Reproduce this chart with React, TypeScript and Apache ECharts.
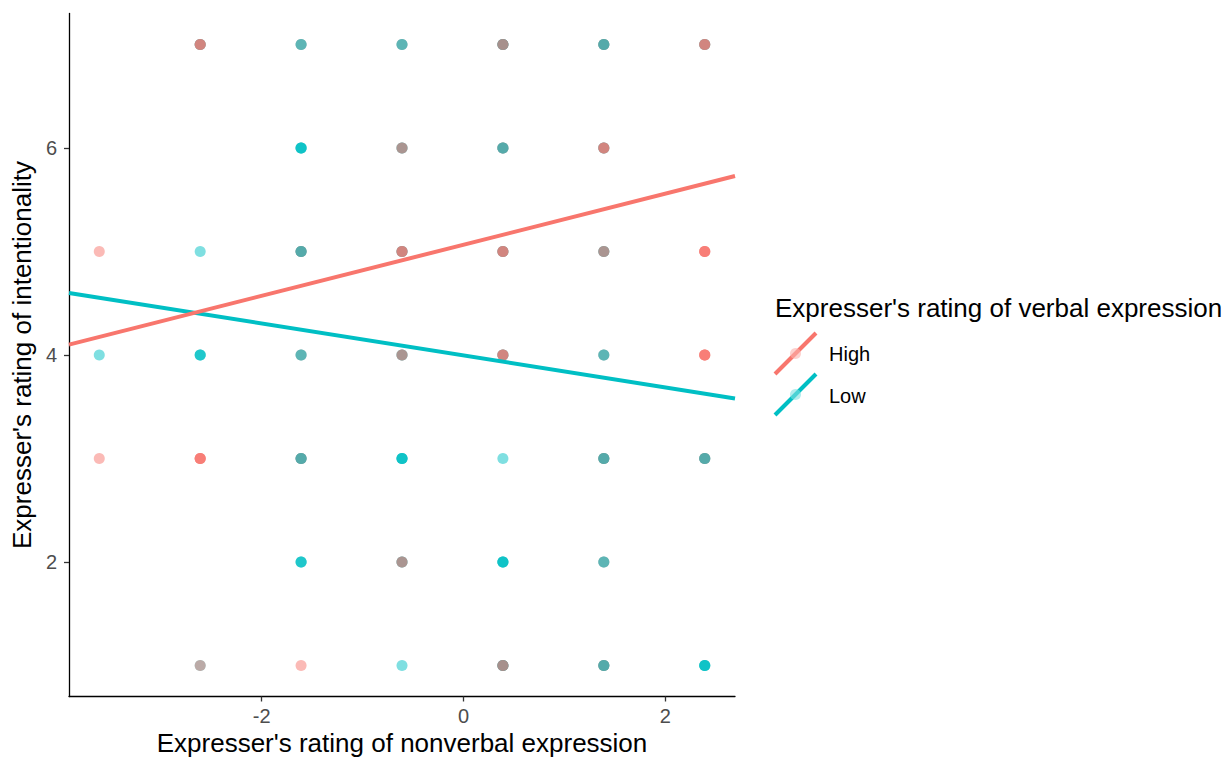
import React, { useEffect, useRef } from "react";
import * as echarts from "echarts";

// Nonverbal (centred) positions and intentionality ratings
const xValues = [-3.61, -2.61, -1.61, -0.61, 0.39, 1.39, 2.39];
const yValues = [1, 2, 3, 4, 5, 6, 7];

// Number of overlapping observations per cell (rows: y = 1..7, cols: xValues)
const highCounts = [
  [0, 1, 1, 0, 3, 2, 0],
  [0, 0, 0, 2, 0, 1, 0],
  [1, 4, 2, 0, 0, 2, 2],
  [0, 0, 1, 2, 3, 1, 4],
  [1, 0, 2, 3, 3, 2, 4],
  [0, 0, 0, 2, 2, 3, 0],
  [0, 3, 1, 1, 3, 2, 3],
];
const lowCounts = [
  [0, 1, 0, 1, 3, 3, 4],
  [0, 0, 3, 2, 4, 2, 0],
  [0, 0, 3, 4, 1, 3, 3],
  [1, 3, 2, 2, 2, 2, 0],
  [0, 1, 3, 2, 2, 2, 0],
  [0, 0, 4, 2, 3, 2, 0],
  [0, 2, 2, 2, 3, 3, 2],
];

// Fitted lines (full range)
const fitX = [-3.91, 2.69];
const highFit = [4.1, 5.73];
const lowFit = [4.6, 3.58];

const xTicks = [-2, 0, 2];
const yTicks = [2, 4, 6];

const RED = "#F8766D";
const TEAL = "#00BFC4";
const FONT = "Liberation Sans, Arial, Helvetica, sans-serif";

function layer(counts: number[][], k: number) {
  const out: number[][] = [];
  counts.forEach((row, yi) =>
    row.forEach((c, xi) => {
      if (c >= k) out.push([xValues[xi], yValues[yi]]);
    })
  );
  return out;
}

export default function App() {
  const ref = useRef<HTMLDivElement>(null);
  useEffect(() => {
    if (!ref.current) return;
    const chart = echarts.init(ref.current, null, { renderer: "svg" });
    const maxK = 4;
    const scatter: any[] = [];
    for (let k = 1; k <= maxK; k++) {
      scatter.push({
        type: "scatter",
        name: "Low",
        data: layer(lowCounts, k),
        symbolSize: 11,
        itemStyle: { color: TEAL, opacity: 0.5 },
        silent: true,
      });
      scatter.push({
        type: "scatter",
        name: "High",
        data: layer(highCounts, k),
        symbolSize: 11,
        itemStyle: { color: RED, opacity: 0.5 },
        silent: true,
      });
    }
    const option: any = {
      animation: false,
      grid: {
        left: 69,
        top: 13.5,
        width: 666,
        height: 683,
        containLabel: false,
        outerBoundsMode: "none",
      },
      xAxis: {
        type: "value",
        min: fitX[0],
        max: fitX[1],
        name: "Expresser's rating of nonverbal expression",
        nameLocation: "middle",
        nameGap: 33,
        nameTextStyle: { fontSize: 26, color: "#000", fontFamily: FONT },
        axisLine: { onZero: false, lineStyle: { color: "#000", width: 1.3 } },
        axisTick: { customValues: xTicks, length: 5, lineStyle: { color: "#333", width: 1.3 } },
        axisLabel: { customValues: xTicks, fontSize: 20, color: "#4D4D4D", margin: 9, fontFamily: FONT },
        splitLine: { show: false },
      },
      yAxis: {
        type: "value",
        min: 0.7,
        max: 7.3,
        name: "Expresser's rating of intentionality",
        nameLocation: "middle",
        nameGap: 26,
        nameTextStyle: { fontSize: 26, color: "#000", fontFamily: FONT },
        axisLine: { onZero: false, lineStyle: { color: "#000", width: 1.3 } },
        axisTick: { customValues: yTicks, length: 5, lineStyle: { color: "#333", width: 1.3 } },
        axisLabel: { customValues: yTicks, fontSize: 20, color: "#4D4D4D", margin: 12, fontFamily: FONT },
        splitLine: { show: false },
      },
      series: [
        ...scatter,
        {
          type: "line",
          name: "Low fit",
          data: fitX.map((x, i) => [x, lowFit[i]]),
          symbol: "none",
          lineStyle: { color: TEAL, width: 4 },
          silent: true,
        },
        {
          type: "line",
          name: "High fit",
          data: fitX.map((x, i) => [x, highFit[i]]),
          symbol: "none",
          lineStyle: { color: RED, width: 4 },
          silent: true,
        },
      ],
      graphic: [
        {
          type: "text",
          left: 775,
          top: 295,
          style: { text: "Expresser's rating of verbal expression", fontSize: 26, fill: "#000", fontFamily: FONT },
        },
        { type: "line", shape: { x1: 775, y1: 374, x2: 816, y2: 333 }, style: { stroke: RED, lineWidth: 4 } },
        { type: "circle", shape: { cx: 795.5, cy: 353.5, r: 5.5 }, style: { fill: "#FBB3AE", opacity: 0.6 } },
        {
          type: "text",
          left: 829,
          top: 344,
          style: { text: "High", fontSize: 20, fill: "#000", fontFamily: FONT },
        },
        { type: "line", shape: { x1: 775, y1: 415, x2: 816, y2: 374 }, style: { stroke: TEAL, lineWidth: 4 } },
        { type: "circle", shape: { cx: 795.5, cy: 394.5, r: 5.5 }, style: { fill: "#7FDFE1", opacity: 0.6 } },
        {
          type: "text",
          left: 829,
          top: 386,
          style: { text: "Low", fontSize: 20, fill: "#000", fontFamily: FONT },
        },
      ],
    };
    chart.setOption(option);
    return () => chart.dispose();
  }, []);
  return (
    <div
      ref={ref}
      style={{ position: "absolute", left: 0, top: 0, width: 1226, height: 759, background: "#fff" }}
    />
  );
}
